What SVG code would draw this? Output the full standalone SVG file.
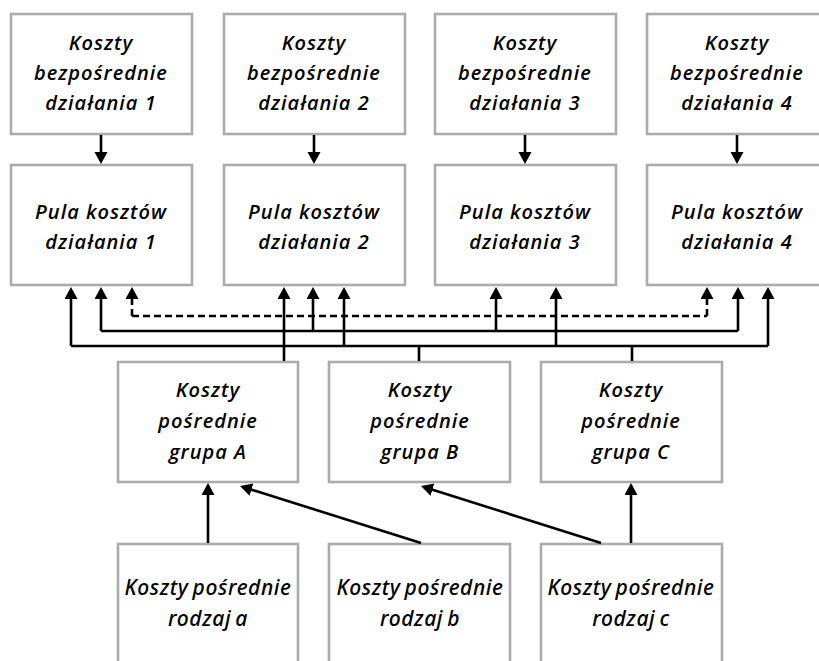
<svg xmlns="http://www.w3.org/2000/svg" width="819" height="661" viewBox="0 0 819 661">
  <defs>
    <marker id="arrow" markerUnits="userSpaceOnUse" markerWidth="14" markerHeight="14" refX="9" refY="6.5" orient="auto">
      <path d="M0,0 L12,6.5 L0,13 z" fill="#000"/>
    </marker>
    <style>
      .box { fill: #fff; stroke: #ababab; stroke-width: 2.6; }
      .t { font-family: "Open Sans", "DejaVu Sans", sans-serif; font-size: 20px; font-weight: 600; font-style: italic; fill: #000; text-anchor: middle; letter-spacing: 1px; }
      .tb { font-family: "Noto Sans", "DejaVu Sans", sans-serif; font-size: 21px; font-weight: 500; font-style: italic; fill: #000; text-anchor: middle; letter-spacing: 0.6px; word-spacing: -2px; }
      .link { fill: none; stroke: #000; stroke-width: 2.6; }
      .arr { marker-end: url(#arrow); }
      .dash { stroke-dasharray: 7 4; }
    </style>
  </defs>
  <rect width="819" height="661" fill="#fff"/>

  <!-- direct costs per activity -->
  <g id="direct-1"><rect class="box" x="11" y="14" width="181" height="120"/>
    <text class="t" x="101" y="50">Koszty</text><text class="t" x="101" y="80">bezpośrednie</text><text class="t" x="101" y="110">działania 1</text></g>
  <g id="direct-2"><rect class="box" x="224" y="14" width="181" height="120"/>
    <text class="t" x="314" y="50">Koszty</text><text class="t" x="314" y="80">bezpośrednie</text><text class="t" x="314" y="110">działania 2</text></g>
  <g id="direct-3"><rect class="box" x="435" y="14" width="181" height="120"/>
    <text class="t" x="525" y="50">Koszty</text><text class="t" x="525" y="80">bezpośrednie</text><text class="t" x="525" y="110">działania 3</text></g>
  <g id="direct-4"><rect class="box" x="647" y="14" width="181" height="120"/>
    <text class="t" x="737" y="50">Koszty</text><text class="t" x="737" y="80">bezpośrednie</text><text class="t" x="737" y="110">działania 4</text></g>

  <!-- activity cost pools -->
  <g id="pool-1"><rect class="box" x="11" y="165" width="181" height="120"/>
    <text class="t" x="101" y="219">Pula kosztów</text><text class="t" x="101" y="249">działania 1</text></g>
  <g id="pool-2"><rect class="box" x="224" y="165" width="181" height="120"/>
    <text class="t" x="314" y="219">Pula kosztów</text><text class="t" x="314" y="249">działania 2</text></g>
  <g id="pool-3"><rect class="box" x="435" y="165" width="181" height="120"/>
    <text class="t" x="525" y="219">Pula kosztów</text><text class="t" x="525" y="249">działania 3</text></g>
  <g id="pool-4"><rect class="box" x="647" y="165" width="181" height="120"/>
    <text class="t" x="737" y="219">Pula kosztów</text><text class="t" x="737" y="249">działania 4</text></g>

  <!-- indirect cost groups -->
  <g id="group-A"><rect class="box" x="118" y="362" width="180" height="120"/>
    <text class="t" x="208" y="397">Koszty</text><text class="t" x="208" y="428">pośrednie</text><text class="t" x="208" y="459">grupa A</text></g>
  <g id="group-B"><rect class="box" x="329" y="362" width="181" height="120"/>
    <text class="t" x="420" y="397">Koszty</text><text class="t" x="420" y="428">pośrednie</text><text class="t" x="420" y="459">grupa B</text></g>
  <g id="group-C"><rect class="box" x="541" y="362" width="181" height="120"/>
    <text class="t" x="631" y="397">Koszty</text><text class="t" x="631" y="428">pośrednie</text><text class="t" x="631" y="459">grupa C</text></g>

  <!-- indirect cost kinds -->
  <g id="kind-a"><rect class="box" x="118" y="544" width="180" height="160"/>
    <text class="tb" x="208" y="595">Koszty pośrednie</text><text class="tb" x="208" y="626">rodzaj a</text></g>
  <g id="kind-b"><rect class="box" x="329" y="544" width="181" height="160"/>
    <text class="tb" x="420" y="595">Koszty pośrednie</text><text class="tb" x="420" y="626">rodzaj b</text></g>
  <g id="kind-c"><rect class="box" x="541" y="544" width="181" height="160"/>
    <text class="tb" x="631" y="595">Koszty pośrednie</text><text class="tb" x="631" y="626">rodzaj c</text></g>

  <g id="connectors">
    <!-- direct costs into pools -->
    <path class="link arr" d="M101,135 V161"/>
    <path class="link arr" d="M314,135 V161"/>
    <path class="link arr" d="M525,135 V161"/>
    <path class="link arr" d="M737,135 V161"/>

    <!-- dashed allocation between pools 1 and 4 -->
    <path class="link dash" d="M132,316 H707"/>
    <path class="link dash arr" d="M132,316 V290"/>
    <path class="link dash arr" d="M707,316 V290"/>

    <!-- group A distribution bus -->
    <path class="link" d="M101,331 H738"/>
    <path class="link arr" d="M101,331 V290"/>
    <path class="link arr" d="M313,331 V290"/>
    <path class="link arr" d="M496,331 V290"/>
    <path class="link arr" d="M738,331 V290"/>

    <!-- groups B and C distribution bus -->
    <path class="link" d="M71,346 H768"/>
    <path class="link arr" d="M71,346 V290"/>
    <path class="link arr" d="M344,346 V290"/>
    <path class="link arr" d="M556,346 V290"/>
    <path class="link arr" d="M768,346 V290"/>
    <path class="link" d="M419,346 V361"/>
    <path class="link" d="M632,346 V361"/>

    <!-- group A straight to pool 2 -->
    <path class="link arr" d="M284,361 V290"/>

    <!-- kinds into groups -->
    <path class="link arr" d="M208,543 V486"/>
    <path class="link arr" d="M421,543 L242.9,486.9"/>
    <path class="link arr" d="M601,543 L423.9,486.9"/>
    <path class="link arr" d="M631,543 V486"/>
  </g>
</svg>
